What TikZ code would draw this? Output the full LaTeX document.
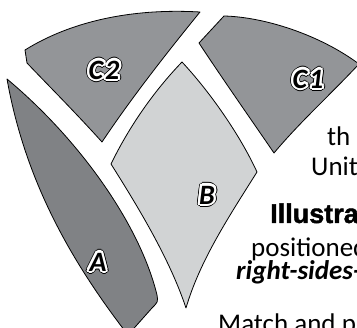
\documentclass[tikz,border=0pt]{standalone}
\usepackage{fontspec}
\setmainfont{Carlito}
\newfontfamily\heavyfont[FakeBold=1.5]{Liberation Sans Bold}
\usetikzlibrary{positioning}

\definecolor{patchdark}{HTML}{808285}
\definecolor{patchmid}{HTML}{939598}
\definecolor{patchlight}{HTML}{D1D3D4}

\tikzset{
  patch/.style={draw=black, line width=0.8pt, line join=round},
  bodytext/.style={anchor=base west, inner sep=0pt, font=\fontsize{27}{30}\selectfont},
  patchname/.style={inner sep=0pt, font=\fontsize{28}{32}\selectfont\bfseries\itshape},
}

% letter with a white halo and a thin black rim
\newcommand{\patchlabel}[3]{%
  \foreach \ang in {0,30,...,330}
    \node[patchname, text=black, shift={(\ang:3.1pt)}] (#1-rim-\ang) at (#2) {#3};
  \foreach \ang in {0,30,...,330}
    \node[patchname, text=white, shift={(\ang:2.2pt)}] (#1-halo-\ang) at (#2) {#3};
  \foreach \ang in {0,45,...,315}
    \node[patchname, text=white, shift={(\ang:1.1pt)}] (#1-fill-\ang) at (#2) {#3};
  \node[patchname] (#1) at (#2) {#3};
}

\begin{document}
\begin{tikzpicture}[x=1pt, y=-1pt]
    \useasboundingbox (0,0) rectangle (357,328);
    \clip (0,0) rectangle (357,328);

    % patches
    \draw[patch, fill=patchmid] (25,50) .. controls (70,22) and (130,8) .. (200,12)
        .. controls (165,55) and (130,100) .. (102,142)
        .. controls (75,112) and (45,82) .. (27,63) -- cycle;
    \draw[patch, fill=patchmid] (224,16) .. controls (265,17) and (320,35) .. (359,64)
        .. controls (330,95) and (300,122) .. (274,153)
        .. controls (250,118) and (222,78) .. (199,43) -- cycle;
    \draw[patch, fill=patchlight] (182,62) .. controls (210,92) and (240,135) .. (257,172)
        .. controls (230,215) and (200,260) .. (186,308)
        .. controls (170,260) and (140,210) .. (111,164)
        .. controls (130,125) and (155,90) .. (182,62) -- cycle;
    \draw[patch, fill=patchdark] (7,79) .. controls (80,140) and (140,225) .. (157,295)
        .. controls (158,302) .. (152,308) -- (128,335)
        .. controls (70,260) and (25,180) .. (7,79) -- cycle;

    \patchlabel{c2}{104,70}{C\kern2pt 2}
    \patchlabel{c1}{308,79}{C\kern2pt 1}
    \patchlabel{b}{207,195}{B}
    \patchlabel{a}{98,262}{A}

    % text beside the block
    \node[bodytext] (line1) at (327,146) {th};
    \node[bodytext] (line2) at (311,176) {Units};
    \node[bodytext, font=\fontsize{27}{30}\heavyfont] (line3) at (270,223) {Illustra};
    \node[bodytext] (line4) at (251,257) {positioned};
    \node[bodytext, font=\fontsize{27}{30}\selectfont\bfseries\itshape] (line5) at (236,280) {right-sides-};
    \node[bodytext] (line6) at (218,333) {Match and pi};
\end{tikzpicture}
\end{document}
